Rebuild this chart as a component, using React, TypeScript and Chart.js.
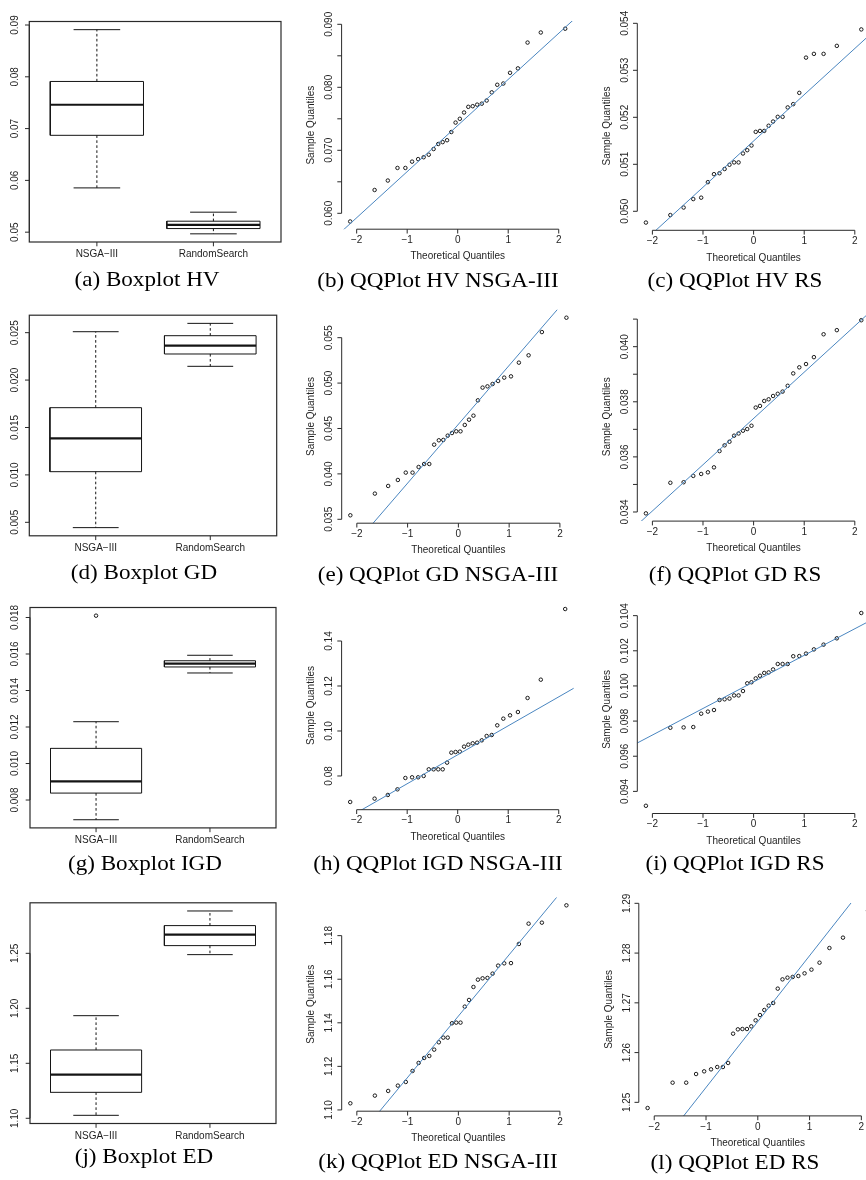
import React, { useEffect, useRef } from 'react';
import { Chart, registerables } from 'chart.js';

Chart.register(...registerables);

// ---------------- data ----------------
// theoretical normal quantiles for n = 30 (ppoints)
const THEORETICAL_QUANTILES = [
  -2.128, -1.645, -1.383, -1.192, -1.036, -0.903, -0.783, -0.674, -0.573, -0.477,
  -0.385, -0.297, -0.21, -0.126, -0.042, 0.042, 0.126, 0.21, 0.297, 0.385,
  0.477, 0.573, 0.674, 0.783, 0.903, 1.036, 1.192, 1.383, 1.645, 2.128,
];

const HV_NSGA_SAMPLE = [
  0.0587, 0.0637, 0.0652, 0.0672, 0.0672, 0.0682, 0.0686, 0.0689, 0.0693, 0.0702,
  0.071, 0.0713, 0.0716, 0.0729, 0.0744, 0.075, 0.076, 0.0769, 0.077, 0.07725,
  0.0774, 0.0779, 0.0792, 0.0804, 0.0806, 0.0823, 0.083, 0.0871, 0.0887, 0.0893,
];
const HV_RS_SAMPLE = [
  0.04976, 0.04992, 0.05008, 0.05026, 0.05029, 0.05062, 0.05079, 0.05081, 0.0509, 0.05099,
  0.05104, 0.05104, 0.05123, 0.0513, 0.0514, 0.05169, 0.05171, 0.05171, 0.05182, 0.05191,
  0.05201, 0.05201, 0.05221, 0.05228, 0.05252, 0.05327, 0.05335, 0.05335, 0.05352, 0.05387,
];
const GD_NSGA_SAMPLE = [
  0.03544, 0.03783, 0.03867, 0.03933, 0.04014, 0.04014, 0.04076, 0.04109, 0.04109, 0.04322,
  0.0437, 0.04374, 0.04421, 0.0445, 0.04469, 0.04469, 0.04539, 0.04597, 0.04641, 0.0481,
  0.0495, 0.04964, 0.0499, 0.05023, 0.0506, 0.05074, 0.05225, 0.05306, 0.05562, 0.0572,
];
const GD_RS_SAMPLE = [
  0.03395, 0.03506, 0.03508, 0.03531, 0.03538, 0.03544, 0.03562, 0.03621, 0.03642, 0.03655,
  0.03677, 0.03685, 0.03695, 0.03701, 0.03713, 0.03779, 0.03785, 0.03803, 0.03809, 0.03821,
  0.03829, 0.03837, 0.03858, 0.03903, 0.03925, 0.03937, 0.03962, 0.04045, 0.0406, 0.04096,
];
const IGD_NSGA_SAMPLE = [
  0.06844, 0.06993, 0.07156, 0.07407, 0.07911, 0.07941, 0.07941, 0.08, 0.08296, 0.08296,
  0.08296, 0.08296, 0.08593, 0.09037, 0.09067, 0.09081, 0.09304, 0.09393, 0.09452, 0.09481,
  0.09585, 0.09778, 0.09822, 0.10252, 0.10548, 0.10696, 0.10844, 0.11467, 0.12281, 0.15422,
];
const IGD_RS_SAMPLE = [
  0.09318, 0.09762, 0.09764, 0.09766, 0.09842, 0.09854, 0.09863, 0.0992, 0.09924, 0.09928,
  0.09946, 0.09946, 0.09971, 0.10015, 0.10021, 0.10043, 0.10058, 0.10074, 0.10077, 0.10094,
  0.10125, 0.10125, 0.10125, 0.10169, 0.1017, 0.10184, 0.10208, 0.10235, 0.10271, 0.10415,
];
const ED_NSGA_SAMPLE = [
  1.10306, 1.10658, 1.10872, 1.11116, 1.11284, 1.1179, 1.12157, 1.12386, 1.12478, 1.12768,
  1.13106, 1.1332, 1.1332, 1.13978, 1.14008, 1.14008, 1.14742, 1.15048, 1.15644, 1.1598,
  1.16042, 1.1606, 1.16256, 1.16624, 1.1673, 1.1674, 1.17618, 1.1855, 1.18596, 1.19392,
];
const ED_RS_SAMPLE = [
  1.24886, 1.25395, 1.25395, 1.25569, 1.25623, 1.25663, 1.2571, 1.2571, 1.25791, 1.2638,
  1.26467, 1.26474, 1.26474, 1.26528, 1.26648, 1.26755, 1.26856, 1.26943, 1.26997, 1.27285,
  1.27472, 1.27506, 1.2752, 1.27539, 1.27593, 1.27667, 1.27807, 1.28102, 1.2831, 1.2885,
];

// boxplot groups and stats: [lower whisker, lower hinge, median, upper hinge, upper whisker]
const BOX_GROUPS = ['NSGA\u2212III', 'RandomSearch'];
const HV_BOX_NSGA = [0.05855, 0.0687, 0.0746, 0.0791, 0.0891];
const HV_BOX_RS = [0.04968, 0.0507, 0.05141, 0.05212, 0.05386];
const GD_BOX_NSGA = [0.00444, 0.01034, 0.01386, 0.01709, 0.0251];
const GD_BOX_RS = [0.02145, 0.02275, 0.02363, 0.02468, 0.02598];
const IGD_BOX_NSGA = [0.00692, 0.00838, 0.00902, 0.01083, 0.01229];
const IGD_BOX_NSGA_OUTLIERS = [0.0181];
const IGD_BOX_RS = [0.01496, 0.01529, 0.01547, 0.01563, 0.01593];
const ED_BOX_NSGA = [1.1027, 1.1236, 1.1397, 1.1621, 1.1933];
const ED_BOX_RS = [1.2488, 1.257, 1.267, 1.2752, 1.2885];

// tick values and labels
const QQ_X_TICKS = [-2, -1, 0, 1, 2];
const QQ_X_LABELS = ['\u22122', '\u22121', '0', '1', '2'];

const A_Y_TICKS = [0.05, 0.06, 0.07, 0.08, 0.09];
const A_Y_LABELS = ['0.05', '0.06', '0.07', '0.08', '0.09'];
const B_Y_TICKS = [0.06, 0.065, 0.07, 0.075, 0.08, 0.085, 0.09];
const B_Y_LABELS = ['0.060', '', '0.070', '', '0.080', '', '0.090'];
const C_Y_TICKS = [0.05, 0.051, 0.052, 0.053, 0.054];
const C_Y_LABELS = ['0.050', '0.051', '0.052', '0.053', '0.054'];
const D_Y_TICKS = [0.005, 0.01, 0.015, 0.02, 0.025];
const D_Y_LABELS = ['0.005', '0.010', '0.015', '0.020', '0.025'];
const E_Y_TICKS = [0.035, 0.04, 0.045, 0.05, 0.055];
const E_Y_LABELS = ['0.035', '0.040', '0.045', '0.050', '0.055'];
const F_Y_TICKS = [0.034, 0.035, 0.036, 0.037, 0.038, 0.039, 0.04, 0.041];
const F_Y_LABELS = ['0.034', '', '0.036', '', '0.038', '', '0.040', ''];
const G_Y_TICKS = [0.008, 0.01, 0.012, 0.014, 0.016, 0.018];
const G_Y_LABELS = ['0.008', '0.010', '0.012', '0.014', '0.016', '0.018'];
const H_Y_TICKS = [0.08, 0.1, 0.12, 0.14];
const H_Y_LABELS = ['0.08', '0.10', '0.12', '0.14'];
const I_Y_TICKS = [0.094, 0.096, 0.098, 0.1, 0.102, 0.104];
const I_Y_LABELS = ['0.094', '0.096', '0.098', '0.100', '0.102', '0.104'];
const J_Y_TICKS = [1.1, 1.15, 1.2, 1.25];
const J_Y_LABELS = ['1.10', '1.15', '1.20', '1.25'];
const K_Y_TICKS = [1.1, 1.12, 1.14, 1.16, 1.18];
const K_Y_LABELS = ['1.10', '1.12', '1.14', '1.16', '1.18'];
const L_Y_TICKS = [1.25, 1.26, 1.27, 1.28, 1.29];
const L_Y_LABELS = ['1.25', '1.26', '1.27', '1.28', '1.29'];

const CAPTIONS = [
  '(a) Boxplot HV', '(b) QQPlot HV NSGA-III', '(c) QQPlot HV RS',
  '(d) Boxplot GD', '(e) QQPlot GD NSGA-III', '(f) QQPlot GD RS',
  '(g) Boxplot IGD', '(h) QQPlot IGD NSGA-III', '(i) QQPlot IGD RS',
  '(j) Boxplot ED', '(k) QQPlot ED NSGA-III', '(l) QQPlot ED RS',
];

// ---------------- styling / layout ----------------
const AXIS_FONT = '10px "Liberation Sans", Arial, sans-serif';
const TEXT_COLOR = '#1e1e1e';
const AXIS_COLOR = '#2a2a2a';
const QQ_LINE_COLOR = '#4a86c0';
const TICK_LEN = 4.3;
const Q25 = -0.6744898;
const Q75 = 0.6744898;

type Region = { l: number; r: number; t: number; b: number };
type Cell = { x: number; y: number; w: number; h: number };

const extend = (lo: number, hi: number) => {
  const d = (hi - lo) * 0.04;
  return [lo - d, hi + d];
};

const quantile7 = (s: number[], p: number) => {
  const h = (s.length - 1) * p;
  const lo = Math.floor(h);
  const hi = Math.min(lo + 1, s.length - 1);
  return s[lo] + (h - lo) * (s[hi] - s[lo]);
};

function qqSpec(cell: Cell, region: Region, sample: number[], yTicks: number[], yLabels: string[]) {
  return { kind: 'qq', cell, region, sample, yTicks, yLabels };
}
function boxSpec(cell: Cell, region: Region, stats: number[][], outliers: number[][], yTicks: number[], yLabels: string[]) {
  return { kind: 'box', cell, region, stats, outliers, yTicks, yLabels };
}

const COL1 = (y: number, h = 290): Cell => ({ x: 0, y, w: 290, h });
const COL2 = (y: number, h = 290): Cell => ({ x: 290, y, w: 290, h });
const COL3 = (y: number, h = 290): Cell => ({ x: 580, y, w: 310, h });

const PANELS: any[] = [
  boxSpec(COL1(0), { l: 29.3, r: 281, t: 21.5, b: 242.0 }, [HV_BOX_NSGA, HV_BOX_RS], [[], []], A_Y_TICKS, A_Y_LABELS),
  qqSpec(COL2(0), { l: 341.6, r: 573.8, t: 21.0, b: 229.2 }, HV_NSGA_SAMPLE, B_Y_TICKS, B_Y_LABELS),
  qqSpec(COL3(0), { l: 637.3, r: 869.9, t: 21.7, b: 230.3 }, HV_RS_SAMPLE, C_Y_TICKS, C_Y_LABELS),
  boxSpec(COL1(290), { l: 29.3, r: 276.7, t: 315.2, b: 535.8 }, [GD_BOX_NSGA, GD_BOX_RS], [[], []], D_Y_TICKS, D_Y_LABELS),
  qqSpec(COL2(290), { l: 341.7, r: 580.3, t: 309.8, b: 523.2 }, GD_NSGA_SAMPLE, E_Y_TICKS, E_Y_LABELS),
  qqSpec(COL3(290), { l: 637.3, r: 869.9, t: 312.5, b: 521.1 }, GD_RS_SAMPLE, F_Y_TICKS, F_Y_LABELS),
  boxSpec(COL1(580), { l: 30, r: 276, t: 607.5, b: 827.9 }, [IGD_BOX_NSGA, IGD_BOX_RS], [IGD_BOX_NSGA_OUTLIERS, []], G_Y_TICKS, G_Y_LABELS),
  qqSpec(COL2(580), { l: 341.6, r: 573.8, t: 601.3, b: 809.7 }, IGD_NSGA_SAMPLE, H_Y_TICKS, H_Y_LABELS),
  qqSpec(COL3(580), { l: 637.3, r: 869.9, t: 605.3, b: 813.5 }, IGD_RS_SAMPLE, I_Y_TICKS, I_Y_LABELS),
  boxSpec(COL1(870, 310), { l: 30, r: 276, t: 902.8, b: 1123.5 }, [ED_BOX_NSGA, ED_BOX_RS], [[], []], J_Y_TICKS, J_Y_LABELS),
  qqSpec(COL2(870, 310), { l: 341.7, r: 580.3, t: 897.4, b: 1111.2 }, ED_NSGA_SAMPLE, K_Y_TICKS, K_Y_LABELS),
  qqSpec(COL3(870, 310), { l: 638.8, r: 876.8, t: 902.9, b: 1115.9 }, ED_RS_SAMPLE, L_Y_TICKS, L_Y_LABELS),
];

// caption centres (x, y)
const CAPTION_POS = [
  [147, 279], [438, 280], [735, 280],
  [144, 572], [438, 574], [735, 574],
  [145, 863], [438, 863], [735, 863],
  [144, 1156], [438, 1161], [735, 1162],
];

// ---------------- chart building ----------------
function decorPlugin(spec: any) {
  return {
    id: 'rdecor',
    afterDraw(chart: any) {
      const { ctx, chartArea: a } = chart;
      const xs = chart.scales.x;
      const ys = chart.scales.y;
      ctx.save();
      ctx.strokeStyle = AXIS_COLOR;
      ctx.fillStyle = TEXT_COLOR;
      ctx.font = AXIS_FONT;
      ctx.lineWidth = 1;

      if (spec.kind === 'box') {
        ctx.lineWidth = 1.2;
        ctx.strokeRect(a.left, a.top, a.right - a.left, a.bottom - a.top);
        ctx.lineWidth = 1;
      }

      // y axis
      const yPix = spec.yTicks.map((v: number) => ys.getPixelForValue(v));
      ctx.beginPath();
      ctx.moveTo(a.left, Math.max(...yPix));
      ctx.lineTo(a.left, Math.min(...yPix));
      yPix.forEach((p: number) => {
        ctx.moveTo(a.left, p);
        ctx.lineTo(a.left - TICK_LEN, p);
      });
      ctx.stroke();
      const yOff = spec.kind === 'box' ? 14.5 : 12;
      yPix.forEach((p: number, i: number) => {
        const t = spec.yLabels[i];
        if (!t) return;
        ctx.save();
        ctx.translate(a.left - yOff, p);
        ctx.rotate(-Math.PI / 2);
        ctx.textAlign = 'center';
        ctx.textBaseline = 'middle';
        ctx.fillText(t, 0, 0);
        ctx.restore();
      });

      // x axis
      const xTicks = spec.kind === 'box' ? [1, 2] : QQ_X_TICKS;
      const xLabels = spec.kind === 'box' ? BOX_GROUPS : QQ_X_LABELS;
      const xPix = xTicks.map((v: number) => xs.getPixelForValue(v));
      ctx.beginPath();
      if (spec.kind !== 'box') {
        ctx.moveTo(Math.min(...xPix), a.bottom);
        ctx.lineTo(Math.max(...xPix), a.bottom);
      }
      xPix.forEach((p: number) => {
        ctx.moveTo(p, a.bottom);
        ctx.lineTo(p, a.bottom + TICK_LEN);
      });
      ctx.stroke();
      ctx.textAlign = 'center';
      ctx.textBaseline = 'middle';
      const xOff = spec.kind === 'box' ? 12.5 : 11;
      xPix.forEach((p: number, i: number) => ctx.fillText(xLabels[i], p, a.bottom + xOff));

      if (spec.kind === 'qq') {
        ctx.fillText('Theoretical Quantiles', (a.left + a.right) / 2, a.bottom + 27.5);
        ctx.save();
        ctx.translate(a.left - 30, (a.top + a.bottom) / 2);
        ctx.rotate(-Math.PI / 2);
        ctx.fillText('Sample Quantiles', 0, 0);
        ctx.restore();
      }
      ctx.restore();
    },
  };
}

function buildConfig(spec: any) {
  const { cell, region } = spec;
  const padding = {
    left: region.l - cell.x,
    right: cell.x + cell.w - region.r,
    top: region.t - cell.y,
    bottom: cell.y + cell.h - region.b,
  };
  let datasets: any[] = [];
  let xlim: number[];
  let ylim: number[];

  if (spec.kind === 'qq') {
    const s: number[] = spec.sample;
    xlim = extend(Math.min(...THEORETICAL_QUANTILES), Math.max(...THEORETICAL_QUANTILES));
    ylim = extend(Math.min(...s), Math.max(...s));
    const y1 = quantile7(s, 0.25);
    const y2 = quantile7(s, 0.75);
    const slope = (y2 - y1) / (Q75 - Q25);
    const icpt = y1 - slope * Q25;
    datasets = [
      {
        label: 'qqline',
        data: xlim.map((x) => ({ x, y: icpt + slope * x })),
        showLine: true,
        borderColor: QQ_LINE_COLOR,
        borderWidth: 1,
        pointRadius: 0,
      },
      {
        label: 'sample',
        data: THEORETICAL_QUANTILES.map((x, i) => ({ x, y: s[i] })),
        showLine: false,
        pointRadius: 1.75,
        pointBorderWidth: 0.95,
        borderColor: '#111',
        backgroundColor: 'rgba(0,0,0,0)',
        pointBackgroundColor: 'rgba(0,0,0,0)',
        pointBorderColor: '#111',
      },
    ];
  } else {
    xlim = extend(0.5, 2.5);
    const all: number[] = [];
    spec.stats.forEach((st: number[]) => all.push(...st));
    spec.outliers.forEach((o: number[]) => all.push(...o));
    ylim = extend(Math.min(...all), Math.max(...all));
    const line = (data: any[], extra: any = {}) => ({
      data,
      showLine: true,
      borderColor: '#141414',
      borderWidth: 1,
      pointRadius: 0,
      borderJoinStyle: 'miter',
      ...extra,
    });
    spec.stats.forEach((st: number[], gi: number) => {
      const pos = gi + 1;
      const [lo, q1, med, q3, hi] = st;
      datasets.push(line([{ x: pos, y: q3 }, { x: pos, y: hi }], { borderDash: [2.6, 2.4] }));
      datasets.push(line([{ x: pos, y: q1 }, { x: pos, y: lo }], { borderDash: [2.6, 2.4] }));
      datasets.push(line([{ x: pos - 0.2, y: hi }, { x: pos + 0.2, y: hi }]));
      datasets.push(line([{ x: pos - 0.2, y: lo }, { x: pos + 0.2, y: lo }]));
      datasets.push(line([
        { x: pos - 0.4, y: q1 }, { x: pos + 0.4, y: q1 }, { x: pos + 0.4, y: q3 },
        { x: pos - 0.4, y: q3 }, { x: pos - 0.4, y: q1 },
      ]));
      datasets.unshift(line([{ x: pos - 0.4, y: med }, { x: pos + 0.4, y: med }], { borderWidth: 2.2 }));
      const outs = spec.outliers[gi];
      if (outs.length) {
        datasets.push({
          data: outs.map((y: number) => ({ x: pos, y })),
          showLine: false,
          pointRadius: 1.75,
          pointBorderWidth: 0.95,
          pointBorderColor: '#111',
          pointBackgroundColor: 'rgba(0,0,0,0)',
        });
      }
    });
  }

  return {
    type: 'scatter',
    data: { datasets },
    options: {
      animation: false,
      responsive: false,
      maintainAspectRatio: false,
      events: [],
      layout: { padding },
      plugins: { legend: { display: false }, tooltip: { enabled: false }, title: { display: false } },
      scales: {
        x: { type: 'linear', min: xlim[0], max: xlim[1], display: false },
        y: { type: 'linear', min: ylim[0], max: ylim[1], display: false },
      },
    },
    plugins: [decorPlugin(spec)],
  };
}

function Panel({ spec }: { spec: any }) {
  const ref = useRef<HTMLCanvasElement>(null);
  useEffect(() => {
    const c = ref.current;
    if (!c) return;
    const chart = new Chart(c, buildConfig(spec) as any);
    return () => chart.destroy();
  }, [spec]);
  const { cell } = spec;
  return (
    <canvas
      ref={ref}
      width={cell.w}
      height={cell.h}
      style={{ position: 'absolute', left: cell.x, top: cell.y, width: cell.w, height: cell.h }}
    />
  );
}

export default function App() {
  return (
    <div
      style={{
        position: 'absolute',
        left: 0,
        top: 0,
        width: 866,
        height: 1180,
        overflow: 'hidden',
        background: '#fff',
      }}
    >
      {PANELS.map((p, i) => (
        <Panel key={i} spec={p} />
      ))}
      {CAPTIONS.map((t, i) => (
        <div
          key={'c' + i}
          style={{
            position: 'absolute',
            left: CAPTION_POS[i][0],
            top: CAPTION_POS[i][1],
            transform: 'translate(-50%, -50%) scaleX(1.1)',
            font: '21px "Liberation Serif", "Times New Roman", serif',
            lineHeight: '21px',
            whiteSpace: 'nowrap',
            color: '#000',
          }}
        >
          {t}
        </div>
      ))}
    </div>
  );
}
